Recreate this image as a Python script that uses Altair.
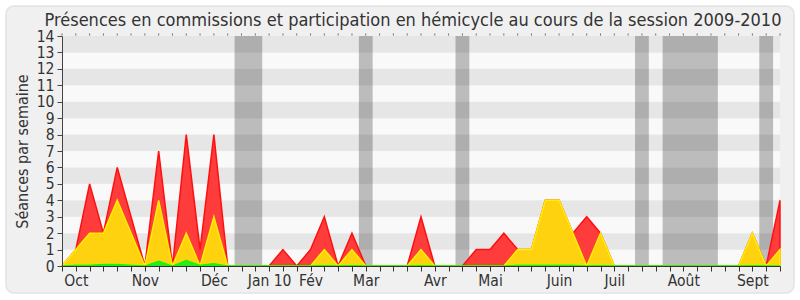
import altair as alt
import pandas as pd

# ---- data ----
weeks = list(range(53))
total = [0, 1, 5, 2, 6, 3, 0, 7, 0, 8, 1, 8, 0, 0, 0, 0, 1, 0, 1, 3, 0, 2, 0, 0, 0, 0,
         3, 0, 0, 0, 1, 1, 2, 1, 1, 4, 4, 2, 3, 2, 0, 0, 0, 0, 0, 0, 0, 0, 0, 0, 2, 0, 4]
hemi = [0, 1, 2, 2, 4, 2, 0, 4, 0, 2, 0, 3, 0, 0, 0, 0, 0, 0, 0, 1, 0, 1, 0, 0, 0, 0,
        1, 0, 0, 0, 0, 0, 0, 1, 1, 4, 4, 2, 0, 2, 0, 0, 0, 0, 0, 0, 0, 0, 0, 0, 2, 0, 1]
inter = [0, 0.05, 0.05, 0.1, 0.1, 0.05, 0, 0.3, 0, 0.35, 0.05, 0.15, 0, 0, 0, 0, 0, 0, 0, 0.03, 0, 0.03, 0, 0, 0, 0,
         0.03, 0, 0, 0, 0, 0, 0, 0.05, 0.05, 0.05, 0.05, 0.05, 0, 0.03, 0, 0, 0, 0, 0, 0, 0, 0, 0, 0, 0.03, 0, 0]

vac_start = [12.5, 21.5, 28.5, 41.5, 43.5, 50.5]
vac_end = [14.5, 22.5, 29.5, 42.5, 47.5, 51.5]

month_pos = [1, 6, 11, 15, 18, 22, 27, 31, 36, 40, 45, 50]
month_names = ["Oct", "Nov", "Déc", "Jan 10", "Fév", "Mar", "Avr", "Mai", "Juin", "Juil", "Août", "Sept"]

title_text = "Présences en commissions et participation en hémicycle au cours de la session 2009-2010"
y_title = "Séances par semaine"

FONT = "DejaVu Sans Condensed, DejaVu Sans"
W, H = 718, 230

df = pd.DataFrame({"week": weeks, "total": total, "hemi": hemi, "inter": inter})
rows = pd.DataFrame({"lo": list(range(14))})
rows["hi"] = rows["lo"] + 1
rows["shade"] = ["#e6e6e6" if v % 2 == 1 else "#f9f9f9" for v in rows["lo"]]
vac = pd.DataFrame({"s": vac_start, "e": vac_end})

xscale = alt.Scale(domain=[0, 52], nice=False, zero=False)
yscale = alt.Scale(domain=[0, 14], nice=False)

names_js = "[" + ",".join("'%s'" % n for n in month_names) + "]"
pos_js = "[" + ",".join(str(p) for p in month_pos) + "]"
label_expr = f"indexof({pos_js}, datum.value) >= 0 ? {names_js}[indexof({pos_js}, datum.value)] : ''"

panel = alt.Chart(pd.DataFrame({"a": [0]})).mark_rect(
    fill="#f0f0f0", stroke="#e2e2e2", strokeWidth=1.5, cornerRadius=8, clip=False
).encode(x=alt.value(-56), x2=alt.value(732), y=alt.value(-30), y2=alt.value(257))

stripes = alt.Chart(rows).mark_rect().encode(
    y=alt.Y("lo:Q", scale=yscale, axis=alt.Axis(
        values=list(range(15)), tickSize=5, tickColor="#444", domainColor="#444",
        labelFont=FONT, labelFontSize=15.5, labelColor="#333", labelPadding=3,
        title=y_title, titleFont=FONT, titleFontSize=16, titleFontWeight="normal",
        titleColor="#333", titlePadding=6, grid=False, zindex=1)),
    y2="hi:Q",
    fill=alt.Fill("shade:N", scale=None),
)

bands = alt.Chart(vac).mark_rect(color="black", opacity=0.245).encode(
    x=alt.X("s:Q", scale=xscale, axis=None),
    x2="e:Q",
    y=alt.Y(datum=14, scale=yscale, axis=None),
    y2=alt.Y2(datum=0),
)

top_dots = alt.Chart(df).mark_tick(
    orient="vertical", size=2, thickness=1, color="#333", yOffset=-1.5, clip=False
).encode(
    x=alt.X("week:Q", scale=xscale, axis=None),
    y=alt.Y(datum=14, scale=yscale, axis=None),
)

red = alt.Chart(df).mark_area(
    fill="#ff3c3c", stroke="#ff1010", strokeWidth=1.5, fillOpacity=1
).encode(
    x=alt.X("week:Q", scale=xscale, axis=None),
    y=alt.Y("total:Q", scale=yscale, axis=alt.Axis(
        orient="right", ticks=False, labels=False, domainColor="#cfcfcf", title=None, grid=False)),
)

yellow = alt.Chart(df).mark_area(
    fill="#ffd20f", stroke="#ffee00", strokeWidth=1.5
).encode(
    x=alt.X("week:Q", scale=xscale, axis=alt.Axis(
        orient="bottom", values=weeks, tickSize=5, tickColor="#333", domainColor="#333",
        labelExpr=label_expr, labelFont=FONT, labelFontSize=15.5, labelColor="#333",
        labelOverlap=False, labelFlush=False, labelPadding=2, title=None, grid=False, zindex=1)),
    y=alt.Y("hemi:Q", scale=yscale, axis=None),
)

green = alt.Chart(df).mark_area(
    fill="#33e622", stroke="#00ff00", strokeWidth=1
).encode(
    x=alt.X("week:Q", scale=xscale, axis=None),
    y=alt.Y("inter:Q", scale=yscale, axis=None),
)

chart = alt.layer(panel, stripes, bands, top_dots, red, yellow, green).resolve_axis(
    x="independent", y="independent"
).properties(
    width=W, height=H,
    autosize=alt.AutoSizeParams(type="none"),
    padding={"left": 62, "top": 36, "right": 20, "bottom": 34},
    background="white",
    title=alt.TitleParams(title_text, font=FONT, fontSize=18, fontWeight="normal",
                          color="#333", anchor="middle", frame="group", offset=-25, dx=-8),
).configure_view(stroke=None)

chart.save("out.html", embed_options={"renderer": "svg", "actions": False})
